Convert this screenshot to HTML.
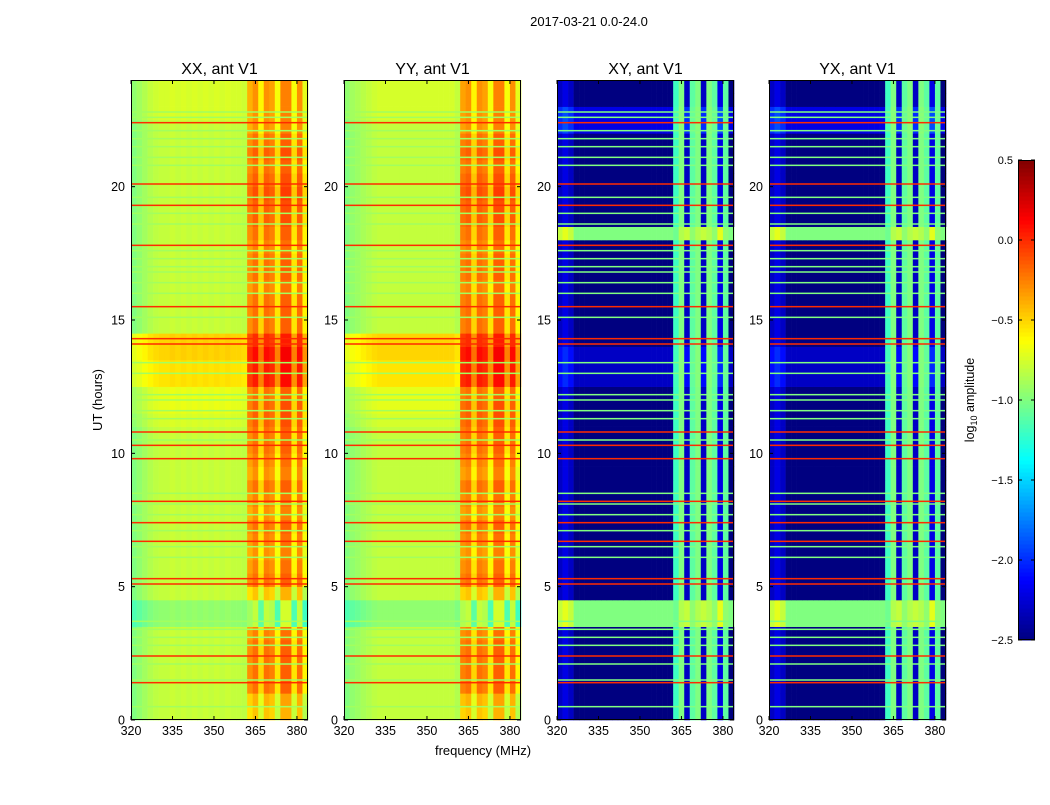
<!DOCTYPE html>
<html><head><meta charset="utf-8"><style>
body{margin:0;background:#fff;width:1050px;height:800px;overflow:hidden}
svg text{font-family:"Liberation Sans",sans-serif}
</style></head><body>
<svg id="fig" width="1050" height="800" viewBox="0 0 1050 800"></svg>
<script>
// ---- data ----
const panelTitles = ["XX, ant V1","YY, ant V1","XY, ant V1","YX, ant V1"];
const freqStart = [320,322,324,326,328,330,332,334,336,338,340,342,344,346,348,350,352,354,356,358,360,362,364,366,368,370,372,374,376,378,380,382];
const colParallelXX = [-1.0,-0.95,-0.9,-0.85,-0.82,-0.8,-0.8,-0.78,-0.8,-0.78,-0.8,-0.78,-0.8,-0.78,-0.8,-0.78,-0.8,-0.78,-0.8,-0.8,-0.82,-0.6,-0.5,-0.8,-0.5,-0.55,-0.85,-0.45,-0.45,-0.85,-0.5,-0.9];
const colParallelYY = [-1.0,-0.95,-0.92,-0.88,-0.85,-0.82,-0.8,-0.8,-0.8,-0.8,-0.8,-0.8,-0.8,-0.8,-0.8,-0.8,-0.8,-0.8,-0.8,-0.8,-0.85,-0.55,-0.5,-0.8,-0.5,-0.55,-0.85,-0.45,-0.45,-0.85,-0.5,-0.9];
const colCross = [-2.3,-2.2,-2.3,-2.5,-2.5,-2.5,-2.5,-2.5,-2.5,-2.5,-2.5,-2.5,-2.5,-2.5,-2.5,-2.5,-2.5,-2.5,-2.5,-2.5,-2.5,-1.2,-1.0,-2.3,-1.1,-1.0,-2.3,-1.0,-1.1,-2.2,-1.1,-2.5];
const activeMask = [0,0,0,0,0,0,0,0,0,0,0,0,0,0,0,0,0,0,0,0,0,1,1,1,1,1,1,1,1,1,1,1];
const rowQuietPar = [0,0,0,0,0,0,0,-0.15,-0.15,0,0,0,0,0,0,0,0,0,0,0,0,0,0.05,0.1,0.1,0.25,0.25,0.3,0.3,0,0,0,0,0,0,0,0,0,0,0,0,0,0,0,0,0.05,0.05,0.05];
const rowActivePar = [0.05,0.1,0.3,0.3,0.3,0.3,0.25,-0.3,-0.3,0.05,0.3,0.25,0.2,0.25,0.3,0.2,0.25,0.3,0.2,0.25,0.3,0.3,0.35,0.35,0.3,0.55,0.55,0.6,0.5,0.3,0.3,0.3,0.25,0.3,0.3,0.25,0.3,0.35,0.35,0.4,0.35,0.3,0.35,0.3,0.2,0.2,0.2,0.2];
const rowCross = [0,0,0,0,0,0,0,1.5,1.5,0,0,0,0,0,0,0,0,0,0,0,0,0,0,0,0,0.2,0.2,0.2,0,0,0,0,0,0,0,0,1.5,0,0,0,0,0,0,0,0.3,0.3,0,0];
const redLines = [1.4,2.4,5.1,5.3,6.7,7.4,8.2,9.8,10.3,10.8,14.1,14.3,15.5,17.8,19.3,20.1,22.4];
const greenLines = [0.5,1.5,2.1,2.8,3.1,3.4,3.7,6.1,6.5,7.1,7.7,8.1,8.5,10.5,11.3,11.6,12.0,12.2,13.0,13.4,15.1,16.0,16.4,16.8,17.0,17.3,17.6,18.6,19.0,19.6,20.8,21.1,21.5,21.8,22.1,22.6,22.8];
const xTicks = [320,335,350,365,380];
const yTicks = [0,5,10,15,20];
const cbTicks = [0.5,0.0,-0.5,-1.0,-1.5,-2.0,-2.5];

// ---- helpers ----
const NS="http://www.w3.org/2000/svg", fig=document.getElementById('fig');
function mk(t,a,p){const e=document.createElementNS(NS,t);for(const k in a)e.setAttribute(k,a[k]);(p||fig).appendChild(e);return e;}
const vmin=-2.5,vmax=0.5;
function jet(v){let x=(v-vmin)/(vmax-vmin);x=Math.max(0,Math.min(1,x));
 const c=q=>Math.round(255*Math.max(0,Math.min(1,1.5-Math.abs(4*x-q))));
 return `rgb(${c(3)},${c(2)},${c(1)})`;}
const panelLeft=[131,344,557,769], panelW=177, pTop=80, pBot=720;
function xs(p,f){return panelLeft[p]+(f-320)*panelW/64;}
function ys(t){return pBot-(t/24)*(pBot-pTop);}

mk('text',{x:589,y:26,'font-size':13,'text-anchor':'middle'}).textContent="2017-03-21 0.0-24.0";

for(let p=0;p<4;p++){
 const g=mk('g',{});
 
 
 const cross=p>=2;
 const colBase = p===0?colParallelXX:(p===1?colParallelYY:colCross);
 for(let r=0;r<48;r++){
  for(let c=0;c<freqStart.length;c++){
   let v;
   if(cross){ v = activeMask[c]&&colBase[c]>-2 ? colBase[c]+rowCross[r]*0.1 : colBase[c]+rowCross[r]; }
   else v = colBase[c] + (activeMask[c]?rowActivePar[r]:rowQuietPar[r]);
   const x0=xs(p,freqStart[c]), x1=Math.min(xs(p,freqStart[c]+2),panelLeft[p]+panelW);
   const cell=mk('rect',{x:x0,y:ys((r+1)*0.5),width:x1-x0+0.3,height:ys(r*0.5)-ys((r+1)*0.5)+0.3,fill:jet(v)},g);
   
   
  }
 }
 for(const t of greenLines){
  const l=mk('rect',{x:panelLeft[p],y:ys(t)-0.75,width:panelW,height:1.5,fill:cross?jet(-1.0):jet(-0.9)},g);
  
  
 }
 for(const t of redLines){
  const l=mk('rect',{x:panelLeft[p],y:ys(t)-0.75,width:panelW,height:1.5,fill:jet(0.0)},g);
  
  
 }
 mk('rect',{x:panelLeft[p]+0.5,y:pTop+0.5,width:panelW-1,height:pBot-pTop-1,fill:'none',stroke:'#000','stroke-width':1},g);
 const tt=mk('text',{x:panelLeft[p]+panelW/2,y:74,'font-size':16,'text-anchor':'middle'},g);tt.textContent=panelTitles[p];
 
 
 for(const f of xTicks){const x=xs(p,f);
  mk('line',{x1:x,x2:x,y1:pBot,y2:pBot-4,stroke:'#000'},g);mk('line',{x1:x,x2:x,y1:pTop,y2:pTop+4,stroke:'#000'},g);
  const t=mk('text',{x:x,y:pBot+15,'font-size':12.5,'text-anchor':'middle'},g);t.textContent=f;}
 for(const h of yTicks){const y=ys(h);
  mk('line',{x1:panelLeft[p],x2:panelLeft[p]+4,y1:y,y2:y,stroke:'#000'},g);mk('line',{x1:panelLeft[p]+panelW,x2:panelLeft[p]+panelW-4,y1:y,y2:y,stroke:'#000'},g);
  const t=mk('text',{x:panelLeft[p]-6,y:y+4.5,'font-size':12.5,'text-anchor':'end'},g);t.textContent=h;}
}
const yl=mk('text',{x:0,y:0,'font-size':13,'text-anchor':'middle',transform:'translate(102,400) rotate(-90)'});yl.textContent="UT (hours)";

const xl=mk('text',{x:483,y:755,'font-size':13,'text-anchor':'middle'});xl.textContent="frequency (MHz)";


const cb=mk('g',{});
const cbT=160,cbB=640,cbX=1018,cbW=17;
for(let i=0;i<120;i++){const v=vmin+(vmax-vmin)*(i+0.5)/120;
 mk('rect',{x:cbX,y:cbB-(i+1)*(cbB-cbT)/120,width:cbW,height:(cbB-cbT)/120+0.5,fill:jet(v)},cb);}
mk('rect',{x:cbX+0.5,y:cbT+0.5,width:cbW-1,height:cbB-cbT-1,fill:'none',stroke:'#000'},cb);
for(const v of cbTicks){const y=cbB-(v-vmin)/(vmax-vmin)*(cbB-cbT);
 mk('line',{x1:cbX,x2:cbX+4,y1:y,y2:y,stroke:'#000'},cb);
 mk('line',{x1:cbX+cbW-4,x2:cbX+cbW,y1:y,y2:y,stroke:'#000'},cb);
 const t=mk('text',{x:1013,y:y+4,'font-size':11,'text-anchor':'end'},cb);t.textContent=v.toFixed(1).replace('-','\u2212');}
const cl=mk('text',{x:0,y:0,'font-size':12.5,'text-anchor':'middle',transform:'translate(974,400) rotate(-90)'},cb);
cl.innerHTML='log<tspan font-size="9" dy="3">10</tspan><tspan dy="-3"> amplitude</tspan>';
</script>
</body></html>
